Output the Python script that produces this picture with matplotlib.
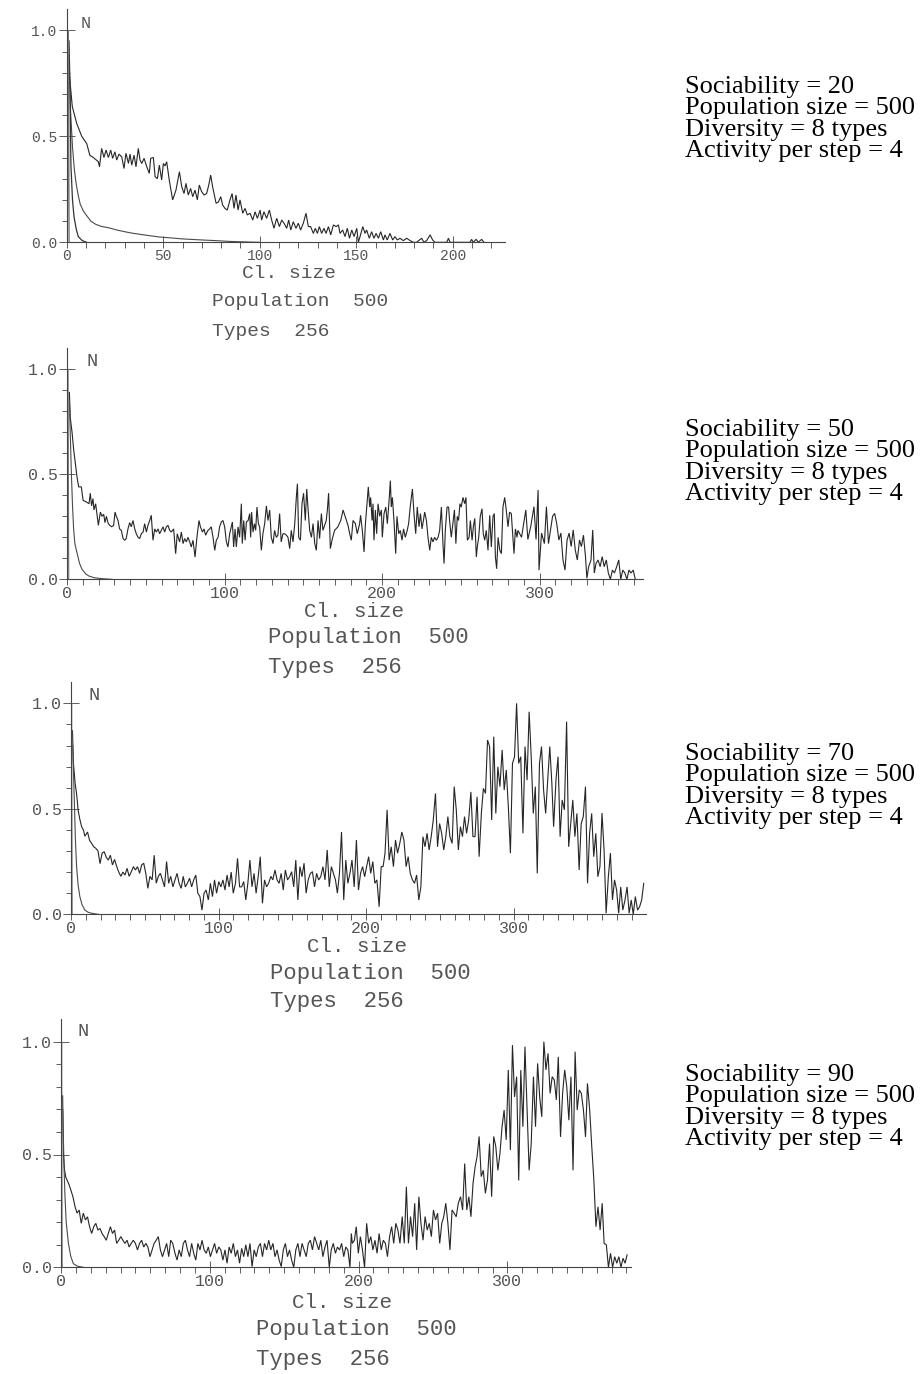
import matplotlib
matplotlib.use("Agg")
from matplotlib import pyplot as plt
import numpy as np

# ---------------- data ----------------
sociability = [20, 50, 70, 90]
population_size = 500
diversity = 8
activity = 4
caption_population = 500
caption_types = 256

xtick_values = [[0, 50, 100, 150, 200], [0, 100, 200, 300], [0, 100, 200, 300], [0, 100, 200, 300]]
xtick_labels = [["0", "50", "100", "150", "200"], ["0", "100", "200", "300"],
                ["0", "100", "200", "300"], ["0", "100", "200", "300"]]
ytick_values = [0.0, 0.5, 1.0]
ytick_labels = ["0.0", "0.5", "1.0"]

# panel 1 (sociability 20): (cluster size, N)
p1_spike = [(0.5, 0.0), (0.9, 1.0), (1.3, 0.0)]
p1_fast = [(1.2, 0.95), (1.6, 0.78), (2.2, 0.36), (3, 0.2), (3.8, 0.12), (5, 0.06), (6, 0.027),
           (8, 0.008), (10.4, 0.0)]
p1_slow = [(1.5, 0.8), (2, 0.62), (3, 0.45), (4, 0.34), (5, 0.27), (6, 0.22), (7, 0.18), (8.5, 0.15),
           (10, 0.13), (12.5, 0.1), (15, 0.085), (18, 0.075), (22, 0.068), (26, 0.058), (30, 0.05),
           (34, 0.043), (40, 0.035), (48, 0.025), (55, 0.02), (60, 0.016), (70, 0.011), (77, 0.008),
           (85, 0.004), (92, 0.002), (100, 0.0)]
p1_main = [(1.2, 0.8), (1.7, 0.76), (2.9, 0.64), (5.2, 0.56), (7.8, 0.50), (10.4, 0.465), (12, 0.41),
           (13.8, 0.40), (16.4, 0.38), (17, 0.356), (18.1, 0.443), (19.3, 0.40), (20.4, 0.435),
           (21.6, 0.40), (22.8, 0.435), (23.8, 0.396), (25.0, 0.427), (25.9, 0.388), (27.1, 0.416),
           (28.5, 0.403), (29.7, 0.348), (30.7, 0.42), (32.0, 0.372), (32.8, 0.416), (33.7, 0.364),
           (34.9, 0.411), (35.9, 0.356), (37.1, 0.443), (38.0, 0.388), (38.9, 0.372), (40.1, 0.396),
           (41.5, 0.356), (42.8, 0.325), (43.5, 0.396), (44.9, 0.40), (45.8, 0.31), (47.0, 0.30),
           (48.0, 0.364), (49.2, 0.294), (50.1, 0.372), (50.9, 0.36), (51.8, 0.38), (53.2, 0.29),
           (54.9, 0.20), (56.6, 0.246), (58.4, 0.333), (59.6, 0.262), (60.8, 0.23), (61.8, 0.278),
           (63.0, 0.223), (64.2, 0.254), (65.3, 0.215), (66.5, 0.246), (67.7, 0.20), (68.7, 0.27),
           (69.9, 0.239), (71.2, 0.223), (72.5, 0.23), (73.6, 0.27), (74.6, 0.317), (75.6, 0.262),
           (77.4, 0.184), (78.6, 0.19), (79.8, 0.215), (80.8, 0.176), (82.0, 0.16), (83.2, 0.152),
           (84.6, 0.20), (85.7, 0.23), (86.7, 0.16), (87.7, 0.223), (88.8, 0.152), (89.8, 0.20),
           (91.2, 0.137), (92.4, 0.16), (93.6, 0.129), (95.0, 0.137), (96.4, 0.105), (97.6, 0.144),
           (98.8, 0.113), (100.2, 0.152), (101.0, 0.105), (102.2, 0.144), (103.6, 0.113), (105.0, 0.152),
           (106.2, 0.105), (107.4, 0.066), (108.8, 0.113), (110.2, 0.074), (111.4, 0.105), (112.6, 0.09),
           (114.0, 0.066), (115.0, 0.105), (116.1, 0.058), (117.4, 0.097), (118.8, 0.066), (120.0, 0.09),
           (121.2, 0.058), (122.6, 0.09), (124.0, 0.137), (125.2, 0.074), (126.4, 0.074), (127.8, 0.042),
           (128.8, 0.066), (129.9, 0.042), (130.9, 0.074), (132.1, 0.042), (133.3, 0.066), (134.4, 0.042),
           (135.6, 0.074), (136.8, 0.035), (138.2, 0.082), (139.6, 0.074), (140.8, 0.082), (141.6, 0.042),
           (143.0, 0.058), (144.2, 0.027), (145.4, 0.066), (146.5, 0.019), (147.7, 0.058), (148.9, 0.027),
           (150.3, 0.066), (151.1, 0.0), (152.0, 0.027), (153.4, 0.074), (154.6, 0.042), (155.4, 0.058),
           (156.8, 0.019), (158.0, 0.05), (159.2, 0.019), (160.3, 0.042), (161.5, 0.019), (162.7, 0.05),
           (164.1, 0.011), (164.9, 0.035), (166.1, 0.011), (167.5, 0.042), (168.9, 0.011), (170.1, 0.027),
           (171.3, 0.011), (172.7, 0.019), (174.4, 0.008), (176.2, 0.019), (177.9, 0.008), (179.6, 0.0),
           (181.3, 0.0), (183.9, 0.019), (185.1, 0.0), (186.5, 0.008), (188.3, 0.035), (189.6, 0.011),
           (190.8, 0.0), (196.9, 0.0), (197.8, 0.019), (198.6, 0.0), (209.0, 0.0), (209.8, 0.014),
           (210.7, 0.0), (212.1, 0.014), (213.3, 0.0), (215.0, 0.014), (216.2, 0.0)]

# panel 2 (sociability 50)
p2_spike = [(0.3, 0.0), (0.7, 1.0), (1.1, 0.0)]
p2_fast = [(1.5, 0.85), (2.75, 0.51), (3.5, 0.35), (4.2, 0.24), (5, 0.17), (6.3, 0.127), (8, 0.075),
           (9.5, 0.048), (12, 0.025), (13.8, 0.016), (17, 0.008), (20, 0.005), (24, 0.002), (28.6, 0.0)]
p2_main = [(1.5, 0.89), (2.1, 0.77), (3.2, 0.70), (4.2, 0.62), (5.3, 0.55), (6.3, 0.49), (7.4, 0.44),
           (9.1, 0.44), (10.2, 0.376), (12.3, 0.368), (14, 0.36), (14.8, 0.41), (15.6, 0.35), (16.5, 0.384),
           (17.1, 0.33), (18.2, 0.36), (19, 0.31), (19.9, 0.257), (21.2, 0.32), (22.2, 0.30), (23.3, 0.31),
           (24.1, 0.27), (25, 0.30), (26.2, 0.265), (27.1, 0.257), (28.4, 0.25), (29.6, 0.257), (30.5, 0.32),
           (31.3, 0.30), (32.4, 0.28), (33.4, 0.24), (34.5, 0.233), (35.6, 0.194), (36.6, 0.186),
           (37.6, 0.194), (38.7, 0.24), (39.8, 0.27), (40.8, 0.25), (41.9, 0.28), (43, 0.24), (44, 0.217),
           (45.1, 0.20), (46.1, 0.194), (47.2, 0.217), (48.3, 0.225), (49.3, 0.265), (50.4, 0.225),
           (51.4, 0.257), (52.5, 0.28), (53.5, 0.305), (54.6, 0.186), (55.7, 0.24), (56.7, 0.225),
           (57.8, 0.24), (58.8, 0.217), (59.9, 0.233), (61, 0.25), (62, 0.225), (63.1, 0.25), (64.1, 0.257),
           (65.2, 0.233), (66.2, 0.225), (67.7, 0.24), (69, 0.122), (70, 0.217), (71.5, 0.178), (72.6, 0.225),
           (73.7, 0.17), (74.7, 0.194), (75.8, 0.178), (76.8, 0.20), (77.9, 0.178), (78.9, 0.154),
           (80, 0.186), (81.3, 0.106), (82.5, 0.20), (83.8, 0.28), (84.7, 0.25), (86, 0.225), (87, 0.24),
           (88, 0.21), (89.5, 0.233), (90.6, 0.24), (91.6, 0.25), (92.7, 0.20), (93.8, 0.138), (94.8, 0.186),
           (95.9, 0.20), (96.9, 0.25), (98, 0.273), (99, 0.28), (100.1, 0.25), (101.2, 0.178), (102.2, 0.154),
           (103.3, 0.217), (104.3, 0.25), (105, 0.273), (105.8, 0.154), (106.7, 0.24), (107.5, 0.154),
           (108.6, 0.25), (109.6, 0.20), (110.7, 0.36), (111.3, 0.17), (112.2, 0.28), (113.1, 0.186),
           (113.9, 0.273), (115, 0.28), (116, 0.313), (116.6, 0.20), (117.2, 0.32), (118.1, 0.225),
           (119, 0.265), (119.8, 0.233), (120.6, 0.344), (121.5, 0.265), (122.3, 0.25), (123.4, 0.138),
           (124.4, 0.217), (125.5, 0.265), (126.6, 0.35), (127.6, 0.28), (128.7, 0.33), (129.7, 0.20),
           (130.8, 0.17), (131.8, 0.233), (132.9, 0.20), (133.9, 0.21), (135, 0.313), (136, 0.178),
           (137.1, 0.217), (138.2, 0.217), (139.3, 0.21), (140.3, 0.20), (141.4, 0.146), (142.4, 0.233),
           (143.5, 0.178), (144.6, 0.265), (145.6, 0.39), (146.3, 0.455), (147.1, 0.20), (148.2, 0.186),
           (149.2, 0.36), (150.2, 0.41), (151.3, 0.28), (152.2, 0.43), (153.1, 0.33), (154.1, 0.233),
           (155.2, 0.20), (156.2, 0.265), (157.3, 0.17), (158.3, 0.138), (159.4, 0.28), (160.4, 0.194),
           (161.5, 0.313), (162.5, 0.233), (163.6, 0.257), (164.6, 0.28), (165.3, 0.33), (166.1, 0.41),
           (167.2, 0.146), (168.5, 0.194), (169.9, 0.233), (172, 0.25), (173.8, 0.28), (175.3, 0.33),
           (177, 0.29), (178.4, 0.257), (179.5, 0.217), (180.5, 0.186), (181.6, 0.28), (183.1, 0.265),
           (184.3, 0.217), (185.8, 0.265), (186.4, 0.305), (187.5, 0.233), (188.6, 0.13), (189.4, 0.257),
           (190.5, 0.36), (191.3, 0.44), (192.2, 0.344), (192.8, 0.39), (193.7, 0.28), (194.3, 0.36),
           (194.9, 0.186), (195.8, 0.33), (196.6, 0.217), (197.5, 0.36), (198.5, 0.30), (199.6, 0.33),
           (200.2, 0.20), (201.3, 0.313), (202.4, 0.344), (203.4, 0.265), (204.5, 0.376), (205.3, 0.47),
           (205.9, 0.344), (206.6, 0.39), (207.6, 0.28), (208.7, 0.122), (209.5, 0.30), (210.6, 0.217),
           (211.6, 0.233), (212.7, 0.186), (213.7, 0.24), (214.8, 0.20), (216, 0.233), (216.9, 0.265),
           (217.9, 0.344), (219.3, 0.43), (220.3, 0.313), (221.4, 0.217), (222.4, 0.344), (223.5, 0.25),
           (224.4, 0.313), (225.4, 0.24), (226.3, 0.28), (227.1, 0.32), (228.2, 0.28), (229.2, 0.20),
           (230.3, 0.138), (231.3, 0.20), (232.4, 0.178), (233.4, 0.20), (234.5, 0.186), (235.6, 0.20),
           (236.6, 0.233), (237.7, 0.344), (238.7, 0.17), (239.4, 0.075), (240.2, 0.233), (241.3, 0.344),
           (242.3, 0.344), (242.9, 0.28), (244, 0.20), (245, 0.265), (246, 0.33), (246.9, 0.17),
           (247.8, 0.30), (248.6, 0.28), (249.5, 0.36), (250.3, 0.344), (251.4, 0.39), (252.5, 0.36),
           (253.3, 0.39), (254.2, 0.186), (255.3, 0.20), (256.1, 0.28), (257.2, 0.186), (258, 0.25),
           (258.9, 0.29), (259.9, 0.106), (260.5, 0.154), (261.4, 0.20), (262.4, 0.30), (263.5, 0.336),
           (264.3, 0.217), (265.2, 0.186), (266.2, 0.233), (267.3, 0.138), (268.4, 0.305), (269.4, 0.154),
           (270.5, 0.30), (271.3, 0.313), (272, 0.106), (272.8, 0.05), (273.7, 0.20), (274.8, 0.138),
           (275.8, 0.122), (276.8, 0.344), (277.9, 0.39), (278.9, 0.33), (280, 0.25), (281, 0.32),
           (282.1, 0.313), (283.1, 0.20), (283.8, 0.122), (284.7, 0.24), (285.7, 0.20), (286.3, 0.233),
           (288.6, 0.20), (291.3, 0.33), (292.6, 0.19), (294.4, 0.25), (296.5, 0.346), (297.8, 0.19),
           (299.1, 0.425), (299.7, 0.044), (301.3, 0.22), (303.1, 0.17), (304.4, 0.346), (305.7, 0.17),
           (307, 0.235), (308.3, 0.30), (309.6, 0.314), (310.9, 0.267), (312.3, 0.187), (313.6, 0.22),
           (314.9, 0.092), (316.2, 0.044), (317.5, 0.187), (318.8, 0.22), (320.1, 0.156), (321.4, 0.235),
           (322.7, 0.14), (324, 0.092), (325.4, 0.187), (326.6, 0.156), (327.9, 0.21), (329.2, 0.108),
           (330.1, 0.005), (331.2, 0.06), (332.7, 0.092), (333.8, 0.235), (334.8, 0.03), (335.9, 0.076),
           (337.2, 0.092), (338.5, 0.06), (339.8, 0.108), (341.1, 0.06), (342.4, 0.092), (343.7, 0.03),
           (345, 0.0), (346.3, 0.044), (347.6, 0.03), (349, 0.06), (350.3, 0.092), (351.6, 0.0),
           (352.9, 0.044), (354.2, 0.03), (355.5, 0.0), (356.8, 0.044), (358.1, 0.03), (359.5, 0.044),
           (360.8, 0.0)]

# panel 3 (sociability 70)
p3_spike = [(0.1, 0.0), (0.4, 1.0), (0.8, 0.0)]
p3_fast = [(1.2, 0.8), (2.3, 0.526), (3, 0.35), (3.8, 0.226), (4.8, 0.14), (6, 0.084), (7.5, 0.045),
           (9.4, 0.02), (11.5, 0.01), (13.9, 0.005), (18.5, 0.0)]
p3_main = [(1.0, 0.87), (1.6, 0.72), (2.2, 0.67), (2.8, 0.62), (3.8, 0.57), (4.9, 0.49), (6, 0.45),
           (7.2, 0.415), (8.4, 0.40), (9.4, 0.37), (11.2, 0.39), (12.6, 0.35), (14, 0.336), (15.4, 0.32),
           (16.8, 0.313), (18.3, 0.30), (19.7, 0.24), (21.1, 0.29), (22.5, 0.297), (23.9, 0.27),
           (25.3, 0.257), (26.7, 0.28), (28.1, 0.234), (29.5, 0.26), (31, 0.226), (32.4, 0.20), (33.8, 0.18),
           (35.2, 0.20), (36.6, 0.186), (38, 0.218), (39.4, 0.18), (40.8, 0.20), (42.3, 0.226), (43.7, 0.21),
           (45.1, 0.226), (46.5, 0.194), (47.9, 0.234), (49.3, 0.242), (50.7, 0.194), (52.1, 0.123),
           (53.5, 0.18), (55, 0.163), (56.4, 0.28), (57.8, 0.147), (59.2, 0.18), (60.6, 0.194), (62, 0.163),
           (63.4, 0.13), (64.8, 0.25), (66.2, 0.147), (67.6, 0.18), (69.1, 0.13), (70.5, 0.163),
           (71.9, 0.194), (73.3, 0.147), (74.7, 0.123), (76.1, 0.18), (77.5, 0.13), (78.9, 0.147),
           (80.4, 0.171), (81.8, 0.13), (83.2, 0.163), (84.6, 0.186), (86, 0.10), (87.4, 0.084), (88.8, 0.02),
           (90.2, 0.10), (91.6, 0.115), (93.1, 0.068), (94.5, 0.147), (95.9, 0.084), (97.3, 0.163),
           (98.7, 0.10), (100.2, 0.155), (101.6, 0.13), (103, 0.163), (104.4, 0.115), (105.8, 0.186),
           (107.2, 0.13), (108.6, 0.20), (110, 0.10), (111.5, 0.147), (112.9, 0.265), (114.3, 0.13),
           (115.7, 0.13), (117.1, 0.155), (118.5, 0.068), (119.9, 0.147), (121.3, 0.257), (122.7, 0.13),
           (124.1, 0.194), (125.5, 0.10), (126.9, 0.178), (128.3, 0.273), (129.8, 0.052), (131.2, 0.163),
           (132.6, 0.13), (134, 0.147), (135.5, 0.18), (136.8, 0.163), (138.3, 0.21), (139.7, 0.163),
           (141.1, 0.147), (142.5, 0.194), (143.9, 0.115), (145.3, 0.21), (146.8, 0.163), (148.2, 0.178),
           (149.6, 0.202), (151, 0.13), (152.4, 0.257), (153.8, 0.068), (155.2, 0.226), (156.6, 0.178),
           (158, 0.242), (159.4, 0.10), (160.8, 0.163), (162.3, 0.194), (163.7, 0.202), (165.1, 0.13),
           (166.5, 0.194), (167.9, 0.163), (169.3, 0.178), (170.8, 0.226), (172.2, 0.163), (173.7, 0.305),
           (175.1, 0.13), (176.5, 0.226), (177.9, 0.194), (179.3, 0.163), (180.6, 0.10), (182, 0.194),
           (183.4, 0.39), (184.9, 0.068), (186.3, 0.257), (187.7, 0.147), (189.1, 0.194), (190.5, 0.257),
           (192, 0.13), (193.5, 0.352), (194.9, 0.115), (196.3, 0.194), (197.7, 0.226), (199.1, 0.178),
           (200.4, 0.226), (201.8, 0.273), (203.2, 0.194), (204.6, 0.25), (206, 0.147), (207.4, 0.163),
           (208.9, 0.036), (210.3, 0.226), (211.6, 0.226), (212.9, 0.29), (214.3, 0.495), (215.7, 0.257),
           (217.1, 0.32), (218.6, 0.226), (220, 0.352), (221.4, 0.29), (222.9, 0.336), (224.3, 0.39),
           (225.7, 0.352), (227.2, 0.226), (228.6, 0.273), (230, 0.194), (231.5, 0.163), (232.9, 0.147),
           (234.3, 0.186), (235.8, 0.068), (237.2, 0.13), (238.6, 0.368), (240, 0.32), (241.4, 0.384),
           (242.8, 0.305), (244.2, 0.368), (245.6, 0.447), (247.1, 0.573), (248.5, 0.32), (249.9, 0.43),
           (251.3, 0.384), (252.7, 0.305), (254.1, 0.368), (255.5, 0.463), (256.9, 0.368), (258.4, 0.336),
           (259.8, 0.605), (261.2, 0.495), (262.6, 0.305), (264, 0.415), (265.4, 0.368), (266.8, 0.463),
           (268.2, 0.384), (269.6, 0.447), (271.1, 0.58), (272.5, 0.368), (273.9, 0.368), (275.3, 0.557),
           (276.7, 0.273), (278.2, 0.478), (279.6, 0.597), (281, 0.573), (282.4, 0.826), (283.8, 0.795),
           (285.2, 0.447), (286.6, 0.842), (288, 0.478), (289.4, 0.699), (290.8, 0.605), (292.3, 0.779),
           (293.7, 0.589), (295.1, 0.684), (296.5, 0.51), (297.9, 0.29), (299.3, 0.715), (300.7, 0.747),
           (302.1, 1.0), (303.5, 0.715), (304.9, 0.747), (306.4, 0.384), (307.8, 0.795), (309.2, 0.636),
           (310.6, 0.96), (312, 0.747), (313.4, 0.478), (314.8, 0.605), (316.1, 0.194), (317.6, 0.715),
           (319, 0.795), (320.4, 0.589), (321.8, 0.478), (323.2, 0.636), (324.6, 0.795), (326, 0.62),
           (327.2, 0.415), (328.8, 0.636), (330.2, 0.747), (331.6, 0.368), (333, 0.542), (334.5, 0.495),
           (336, 0.913), (337.4, 0.32), (338.8, 0.43), (340.2, 0.542), (341.6, 0.368), (343, 0.478),
           (344.5, 0.21), (345.9, 0.43), (347.3, 0.463), (348.8, 0.605), (350.2, 0.147), (351.6, 0.384),
           (353, 0.478), (354.4, 0.273), (355.8, 0.384), (357.2, 0.178), (358.6, 0.226), (360, 0.48),
           (361.4, 0.305), (362.8, 0.005), (364.3, 0.178), (365.7, 0.29), (367.1, 0.068), (368.5, 0.163),
           (369.9, 0.115), (371.3, 0.005), (372.7, 0.13), (374.1, 0.02), (375.6, 0.068), (377, 0.13),
           (378.4, 0.005), (379.8, 0.068), (381.2, 0.0), (382.6, 0.084), (384.1, 0.02), (385.5, 0.036),
           (386.9, 0.068), (388.3, 0.147)]

# panel 4 (sociability 90)
p4_spike = [(0.1, 0.0), (0.4, 1.0), (0.8, 0.0)]
p4_fast = [(1.2, 0.7), (2.0, 0.45), (2.7, 0.31), (3.5, 0.2), (5, 0.105), (6.5, 0.05), (8.3, 0.016),
           (11, 0.005), (15, 0.0)]
p4_main = [(1.1, 0.76), (1.6, 0.505), (2.4, 0.43), (3.2, 0.40), (5.2, 0.37), (6.6, 0.343), (8, 0.313),
           (9.4, 0.27), (10.8, 0.24), (12.2, 0.254), (13.6, 0.195), (15, 0.24), (16.4, 0.21), (17.8, 0.224),
           (19.2, 0.18), (20.6, 0.15), (22, 0.18), (23.4, 0.195), (24.8, 0.165), (26.2, 0.172), (27.6, 0.15),
           (29, 0.136), (30.4, 0.12), (31.8, 0.15), (33.2, 0.18), (34.6, 0.15), (36, 0.165), (37.4, 0.106),
           (38.8, 0.12), (40.2, 0.136), (41.6, 0.12), (43, 0.106), (44.4, 0.12), (45.8, 0.09), (47.2, 0.106),
           (48.6, 0.12), (50, 0.106), (51.4, 0.077), (52.8, 0.106), (54.2, 0.12), (55.6, 0.09), (57, 0.106),
           (58.4, 0.09), (59.8, 0.047), (61.2, 0.077), (62.6, 0.106), (64, 0.12), (65.4, 0.136),
           (66.8, 0.077), (68.2, 0.047), (69.6, 0.077), (71, 0.106), (72.4, 0.047), (73.7, 0.12),
           (75.1, 0.106), (76.6, 0.062), (78, 0.032), (79.4, 0.077), (80.8, 0.047), (82.2, 0.106),
           (83.6, 0.12), (85, 0.077), (86.4, 0.047), (87.8, 0.106), (89.2, 0.062), (90.6, 0.032),
           (92, 0.106), (93.4, 0.077), (94.8, 0.12), (96.2, 0.077), (97.6, 0.062), (99, 0.09), (100.4, 0.047),
           (101.8, 0.077), (103.2, 0.106), (104.6, 0.062), (106, 0.09), (107.4, 0.077), (108.8, 0.032),
           (110.2, 0.077), (111.6, 0.018), (113, 0.09), (114.4, 0.062), (115.8, 0.106), (117.2, 0.047),
           (118.6, 0.077), (120, 0.018), (121.4, 0.084), (122.8, 0.047), (124.2, 0.10), (125.6, 0.047),
           (127, 0.106), (128.4, 0.003), (129.8, 0.077), (131.2, 0.047), (132.6, 0.09), (134, 0.106),
           (135.4, 0.047), (136.8, 0.106), (138.2, 0.077), (139.6, 0.12), (141, 0.077), (142.4, 0.106),
           (143.8, 0.047), (145.2, 0.077), (146.6, 0.032), (148, 0.003), (149.4, 0.077), (150.8, 0.106),
           (152.2, 0.047), (153.6, 0.077), (155, 0.032), (156.4, 0.0), (157.8, 0.077), (159.2, 0.106),
           (160.6, 0.047), (162, 0.106), (163.4, 0.077), (164.8, 0.047), (166.2, 0.106), (167.6, 0.12),
           (169, 0.077), (170.4, 0.136), (171.8, 0.106), (173.2, 0.077), (174.6, 0.12), (176, 0.047),
           (177.4, 0.09), (178.8, 0.12), (180.3, 0.0), (181.6, 0.077), (183, 0.106), (184.4, 0.062),
           (185.8, 0.09), (187.2, 0.077), (188.6, 0.106), (190, 0.047), (191.4, 0.09), (192.8, 0.077),
           (194.2, 0.0), (195.1, 0.15), (195.8, 0.106), (197.2, 0.12), (198.4, 0.18), (199.8, 0.062),
           (201.2, 0.136), (202.6, 0.077), (204, 0.0), (205.4, 0.195), (206.8, 0.106), (208.2, 0.136),
           (209.6, 0.077), (211, 0.12), (212.4, 0.062), (213.8, 0.15), (215.2, 0.077), (216.6, 0.12),
           (218, 0.106), (219.4, 0.047), (220.8, 0.136), (222.2, 0.18), (223.6, 0.106), (225, 0.195),
           (226.4, 0.165), (227.8, 0.106), (229.3, 0.225), (230.7, 0.106), (232.1, 0.357), (233.5, 0.106),
           (234.9, 0.225), (236.3, 0.136), (237.7, 0.284), (239, 0.077), (240.5, 0.313), (241.9, 0.195),
           (243.3, 0.12), (244.7, 0.225), (246.1, 0.165), (247.5, 0.195), (248.9, 0.136), (250.3, 0.254),
           (251.7, 0.21), (253.1, 0.24), (254.5, 0.106), (255.9, 0.195), (257.2, 0.224), (258.6, 0.284),
           (260, 0.195), (261.4, 0.077), (262.8, 0.254), (264.2, 0.24), (265.6, 0.224), (267, 0.284),
           (268.5, 0.313), (269.9, 0.254), (271.3, 0.46), (272.7, 0.254), (274.1, 0.313), (275.5, 0.224),
           (276.9, 0.372), (278.3, 0.445), (279.6, 0.49), (281, 0.58), (282.4, 0.402), (283.8, 0.43),
           (285.2, 0.328), (286.6, 0.387), (288, 0.548), (289.4, 0.313), (290.8, 0.58), (292.2, 0.535),
           (293.6, 0.43), (295, 0.505), (296.4, 0.623), (297.8, 0.697), (299.2, 0.565), (300.6, 0.875),
           (302, 0.52), (303.4, 0.985), (304.8, 0.755), (306.2, 0.845), (307.6, 0.385), (309, 0.874),
           (310.4, 0.623), (311.8, 0.978), (313.2, 0.697), (314.6, 0.43), (316, 0.548), (317.5, 0.845),
           (318.9, 0.623), (320.3, 0.904), (321.7, 0.755), (323.1, 0.667), (324.5, 1.0), (325.9, 0.875),
           (327.3, 0.948), (328.7, 0.771), (330.1, 0.845), (331.5, 0.83), (332.9, 0.742), (334.2, 0.933),
           (335.7, 0.578), (337.1, 0.771), (338.5, 0.875), (339.9, 0.8), (341.3, 0.652), (342.7, 0.845),
           (344.1, 0.43), (345.5, 0.956), (346.9, 0.697), (348.3, 0.786), (349.7, 0.771), (351.1, 0.697),
           (352.5, 0.578), (353.8, 0.815), (355.3, 0.697), (356.7, 0.535), (358.1, 0.387), (359.5, 0.18),
           (360.9, 0.268), (362.3, 0.165), (363.7, 0.284), (365, 0.106), (366.5, 0.1), (367.9, 0.0),
           (369.3, 0.062), (370.7, 0.0), (372.1, 0.047), (373.5, 0.018), (374.9, 0.047), (376.3, 0.0),
           (377.7, 0.04), (379.1, 0.018), (380.4, 0.055)]

panel_series = [
    [p1_main, p1_slow, p1_fast, p1_spike],
    [p2_main, p2_fast, p2_spike],
    [p3_main, p3_fast, p3_spike],
    [p4_main, p4_fast, p4_spike],
]

# ---------------- layout (pixels of the 921x1374 picture) ----------------
W, H = 921, 1374
# x0/y0: pixel of data origin, ppu: px per cluster size, ppy: px per 1.0 of N
layout = [
    dict(x0=66.7, ppu=1.93, y0=242.3, ppy=212.0, xmax=227, tick_fs=10.5, cl_fs=14, cap_fs=14,
         cap_y=(274, 302, 331), cl_cx=288.5, pop_cx=299, n_xy=(86, 23), side_base=93),
    dict(x0=67.0, ppu=1.575, y0=579.3, ppy=210.0, xmax=366, tick_fs=12, cl_fs=15, cap_fs=16,
         cap_y=(612, 638, 668), cl_cx=354, pop_cx=368, n_xy=(92, 361), side_base=436),
    dict(x0=71.0, ppu=1.475, y0=914.3, ppy=211.0, xmax=389.7, tick_fs=12, cl_fs=15, cap_fs=16,
         cap_y=(947, 973, 1002), cl_cx=356.5, pop_cx=370, n_xy=(94, 696), side_base=760),
    dict(x0=61.0, ppu=1.488, y0=1267.3, ppy=225.6, xmax=383, tick_fs=12, cl_fs=15, cap_fs=16,
         cap_y=(1302, 1330, 1360), cl_cx=341.5, pop_cx=356, n_xy=(83, 1032), side_base=1081),
]

MONO = "Liberation Mono"
SERIF = "Liberation Serif"
AXC = "#444444"
TXC = "#555555"


def fx(px):
    return px / W


def fy(py):
    return 1 - py / H


fig = plt.figure(figsize=(W / 100, H / 100), dpi=100)

line_styles = [dict(color="#262626", lw=0.8), dict(color="#4a4a4a", lw=0.8),
               dict(color="#333333", lw=0.9), dict(color="#777777", lw=0.8)]

for i, lay in enumerate(layout):
    ax = fig.add_axes([fx(lay["x0"]), fy(lay["y0"]),
                       lay["xmax"] * lay["ppu"] / W, 1.1 * lay["ppy"] / H])
    ax.set_xlim(0, lay["xmax"])
    ax.set_ylim(0, 1.1)
    for spine in ("top", "right"):
        ax.spines[spine].set_visible(False)
    for spine in ("left", "bottom"):
        ax.spines[spine].set_color(AXC)
        ax.spines[spine].set_linewidth(0.8)

    series = panel_series[i]
    for k, s in enumerate(series):
        xs, ys = zip(*s)
        style = line_styles[k] if k < len(series) - 1 else line_styles[3]
        ax.plot(xs, ys, solid_joinstyle="miter", **style)

    ax.set_xticks(xtick_values[i])
    ax.set_xticklabels(xtick_labels[i], family=MONO, fontsize=lay["tick_fs"], color=TXC)
    ax.set_xticks(np.arange(0, lay["xmax"], 10), minor=True)
    ax.set_yticks(ytick_values)
    ax.set_yticklabels(ytick_labels, family=MONO, fontsize=lay["tick_fs"], color=TXC)
    ax.set_yticks(np.arange(0, 1.01, 0.1), minor=True)

    ax.tick_params(axis="x", which="major", direction="inout", length=8.6, width=0.6,
                   color=AXC, pad=0.5)
    ax.tick_params(axis="x", which="minor", direction="out", length=4.3, width=0.6, color=AXC)
    ax.tick_params(axis="y", which="major", direction="inout", length=11.5, width=0.6,
                   color=AXC, pad=1)
    ax.tick_params(axis="y", which="minor", direction="out", length=3.6, width=0.6, color=AXC)

    # "N" next to the top of the y axis
    nx, ny = lay["n_xy"]
    fig.text(fx(nx), fy(ny), "N", family=MONO, fontsize=lay["tick_fs"] + 1.5, color=TXC,
             ha="center", va="center")

    # captions under the panel
    adv = 0.6 * lay["cap_fs"] * 100 / 72
    left = lay["pop_cx"] - 7.5 * adv
    cy = lay["cap_y"]
    fig.text(fx(lay["cl_cx"]), fy(cy[0]), "Cl. size", family=MONO, fontsize=lay["cl_fs"],
             color=TXC, ha="center", va="center")
    fig.text(fx(left), fy(cy[1]), f"Population  {caption_population}", family=MONO,
             fontsize=lay["cap_fs"], color=TXC, ha="left", va="center")
    fig.text(fx(left), fy(cy[2]), f"Types  {caption_types}", family=MONO,
             fontsize=lay["cap_fs"], color=TXC, ha="left", va="center")

    # parameter block on the right
    side = [f"Sociability = {sociability[i]}",
            f"Population size = {population_size}",
            f"Diversity = {diversity} types",
            f"Activity per step = {activity}"]
    for j, line in enumerate(side):
        fig.text(fx(685), fy(lay["side_base"] + 21.4 * j), line, family=SERIF, fontsize=19,
                 color="black", ha="left", va="baseline")

fig.savefig("out.png", dpi=100)
